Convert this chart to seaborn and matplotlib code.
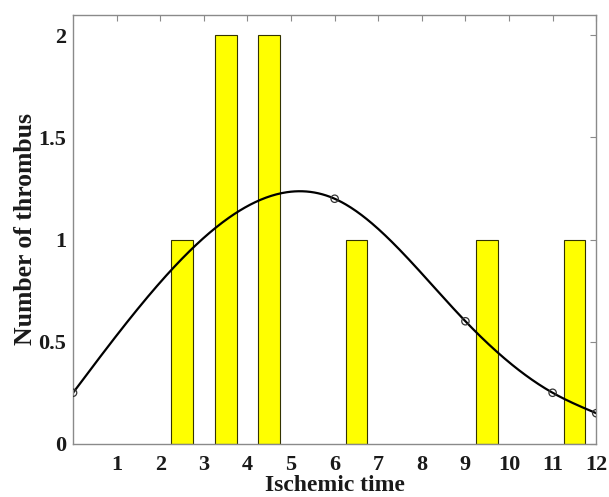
import numpy as np
import pandas as pd
import seaborn as sns
import matplotlib
matplotlib.use("Agg")
import matplotlib.pyplot as plt

# =============================================================================
# 数据
# =============================================================================
bar_x = [2.5, 3.5, 4.5, 6.5, 9.5, 11.5]
bar_counts = [1, 2, 2, 1, 1, 1]

fit_x = [0, 6, 9, 11, 12]
fit_y = [0.25, 1.2, 0.6, 0.25, 0.15]

x_ticks = [1, 2, 3, 4, 5, 6, 7, 8, 9, 10, 11, 12]
y_ticks = [0, 0.5, 1, 1.5, 2]


def spline_natural(x, y, xs):
    # 自然三次样条插值（端点二阶导数为 0）
    x = np.asarray(x, float)
    y = np.asarray(y, float)
    n = len(x)
    h = np.diff(x)
    A = np.zeros((n, n))
    b = np.zeros(n)
    A[0, 0] = 1
    A[-1, -1] = 1
    for i in range(1, n - 1):
        A[i, i - 1] = h[i - 1]
        A[i, i] = 2 * (h[i - 1] + h[i])
        A[i, i + 1] = h[i]
        b[i] = 6 * ((y[i + 1] - y[i]) / h[i] - (y[i] - y[i - 1]) / h[i - 1])
    M = np.linalg.solve(A, b)
    idx = np.clip(np.searchsorted(x, xs) - 1, 0, n - 2)
    x0, x1 = x[idx], x[idx + 1]
    hh = x1 - x0
    return (M[idx] * (x1 - xs) ** 3 / (6 * hh) + M[idx + 1] * (xs - x0) ** 3 / (6 * hh)
            + (y[idx] / hh - M[idx] * hh / 6) * (x1 - xs)
            + (y[idx + 1] / hh - M[idx + 1] * hh / 6) * (xs - x0))


sns.set_style("white")
plt.rcParams['font.family'] = ['Liberation Serif', 'DejaVu Serif']
plt.rcParams['font.weight'] = 'bold'

df_bar = pd.DataFrame({'time': bar_x, 'count': bar_counts})
xs = np.linspace(fit_x[0], fit_x[-1], 400)
df_fit = pd.DataFrame({'time': xs, 'value': spline_natural(fit_x, fit_y, xs)})
df_pts = pd.DataFrame({'time': fit_x, 'value': fit_y})

fig = plt.figure(figsize=(6.09, 4.97), dpi=100)
ax = fig.add_axes([0.120, 0.107, 0.859, 0.863])

sns.barplot(data=df_bar, x='time', y='count', native_scale=True, width=0.5,
            color='#FFFF00', saturation=1, edgecolor='#333300', linewidth=0.8, ax=ax)
sns.lineplot(data=df_fit, x='time', y='value', color='black', linewidth=1.6, ax=ax)
sns.scatterplot(data=df_pts, x='time', y='value', marker='o', s=28,
                facecolor='none', edgecolor='#333333', linewidth=0.9, ax=ax, zorder=5)

ax.set_xlim(0, 12)
ax.set_ylim(0, 2.1)
ax.set_xticks(x_ticks)
ax.set_xticklabels([str(t) for t in x_ticks])
ax.set_yticks(y_ticks)
ax.set_yticklabels(['0', '0.5', '1', '1.5', '2'])

for sp in ax.spines.values():
    sp.set_visible(True)
    sp.set_color('#8a8a8a')
    sp.set_linewidth(1.0)

ax.tick_params(axis='both', direction='in', length=4, width=0.8, color='#8a8a8a',
               top=True, right=True, labelsize=16, labelcolor='#1a1a1a')
ax.tick_params(axis='x', pad=8)
ax.tick_params(axis='y', pad=5)

ax.set_xlabel('Ischemic time', fontsize=17, fontweight='bold', color='#1a1a1a', labelpad=0)
ax.set_ylabel('Number of thrombus', fontsize=18.5, fontweight='bold', color='#1a1a1a', labelpad=1)

plt.savefig('out.png', dpi=100)
plt.close()
